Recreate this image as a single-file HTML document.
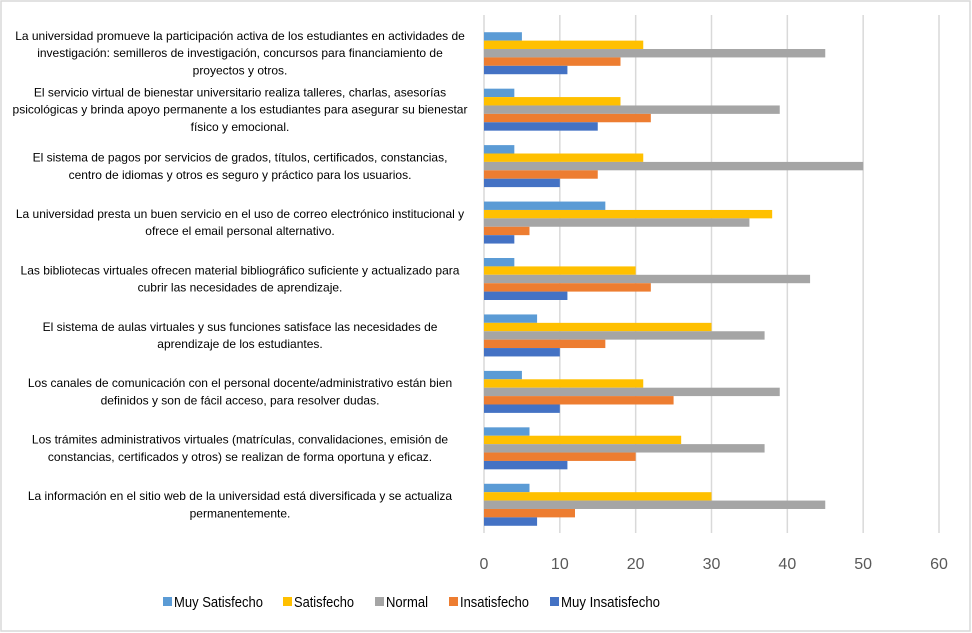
<!DOCTYPE html>
<html><head><meta charset="utf-8"><style>
body{margin:0;background:#fff;}
svg{display:block;font-family:"Liberation Sans",sans-serif;}
</style></head><body>
<svg id="chart" width="972" height="633">
<rect x="1" y="1" width="969" height="630" fill="#fff" stroke="#d9d9d9" stroke-width="1.5"/>
<g id="grid"></g><g id="bars"></g><g id="labels"></g><g id="ticks"></g><g id="legend"></g>
</svg>
<script>
const categoryLines = [
 ["La universidad promueve la participación activa de los estudiantes en actividades de","investigación: semilleros de investigación, concursos para financiamiento de","proyectos y otros."],
 ["El servicio virtual de bienestar universitario realiza talleres, charlas, asesorías","psicológicas y brinda apoyo permanente a los estudiantes para asegurar su bienestar","físico y emocional."],
 ["El sistema de pagos por servicios de grados, títulos, certificados, constancias,","centro de idiomas y otros es seguro y práctico para los usuarios."],
 ["La universidad presta un buen servicio en el uso de correo electrónico institucional y","ofrece el email personal alternativo."],
 ["Las bibliotecas virtuales ofrecen material bibliográfico suficiente y actualizado para","cubrir las necesidades de aprendizaje."],
 ["El sistema de aulas virtuales y sus funciones satisface las necesidades de","aprendizaje de los estudiantes."],
 ["Los canales de comunicación con el personal docente/administrativo están bien","definidos y son de fácil acceso, para resolver dudas."],
 ["Los trámites administrativos virtuales (matrículas, convalidaciones, emisión de","constancias, certificados y otros) se realizan de forma oportuna y eficaz."],
 ["La información en el sitio web de la universidad está diversificada y se actualiza","permanentemente."]
];
const seriesNames = ["Muy Satisfecho","Satisfecho","Normal","Insatisfecho","Muy Insatisfecho"];
const muySatisfecho = [5,4,4,16,4,7,5,6,6];
const satisfecho = [21,18,21,38,20,30,21,26,30];
const normal = [45,39,50,35,43,37,39,37,45];
const insatisfecho = [18,22,15,6,22,16,25,20,12];
const muyInsatisfecho = [11,15,10,4,11,10,10,11,7];
const tickValues = [0,10,20,30,40,50,60];
const colors = ["#5B9BD5","#FFC000","#A5A5A5","#ED7D31","#4472C4"];
const series = [muySatisfecho,satisfecho,normal,insatisfecho,muyInsatisfecho];

const NS="http://www.w3.org/2000/svg";
const x0=484, x1=939, xmax=60, plotTop=25, plotBottom=533;
const xs=v=>x0+(v/xmax)*(x1-x0);
const band=(plotBottom-plotTop)/categoryLines.length;
const barH=8.4;
function mk(tag,attrs,parent){const e=document.createElementNS(NS,tag);for(const k in attrs)e.setAttribute(k,attrs[k]);parent.appendChild(e);return e;}
const grid=document.getElementById('grid'),bars=document.getElementById('bars'),labels=document.getElementById('labels'),ticks=document.getElementById('ticks'),legend=document.getElementById('legend');
tickValues.forEach(t=>{
 const l=mk('line',{x1:xs(t),x2:xs(t),y1:plotTop-10,y2:plotBottom,stroke:'#d9d9d9','stroke-width':1.5},grid);
 
 
 const tx=mk('text',{x:xs(t),y:569,'text-anchor':'middle','font-size':16,fill:'#595959'},ticks);
 tx.textContent=t;
 
 
});
categoryLines.forEach((lines,i)=>{
 const c=plotTop+band*(i+0.5);
 const y0=c-barH*2.5;
 series.forEach((s,j)=>{
  const r=mk('rect',{x:xs(0),y:y0+j*barH,width:xs(s[i])-xs(0),height:barH,fill:colors[j]},bars);
  
  
 });
 const n=lines.length;
 lines.forEach((ln,k)=>{
  const t=mk('text',{x:240,y:c+(k-(n-1)/2)*17.3+4,'text-anchor':'middle','font-size':12,fill:'#000'},labels);
  t.textContent=ln;
  
  
 });
});
const legX=[163,283,375,449,550];
const legW=[89,60,42,69,99];
seriesNames.forEach((nm,j)=>{
 const r=mk('rect',{x:legX[j],y:597,width:9,height:9,fill:colors[j]},legend);
 
 
 const t=mk('text',{x:legX[j]+11,y:607,'font-size':15,fill:'#000',textLength:legW[j],lengthAdjust:'spacingAndGlyphs'},legend);
 t.textContent=nm;
 
 
});
</script>
</body></html>
